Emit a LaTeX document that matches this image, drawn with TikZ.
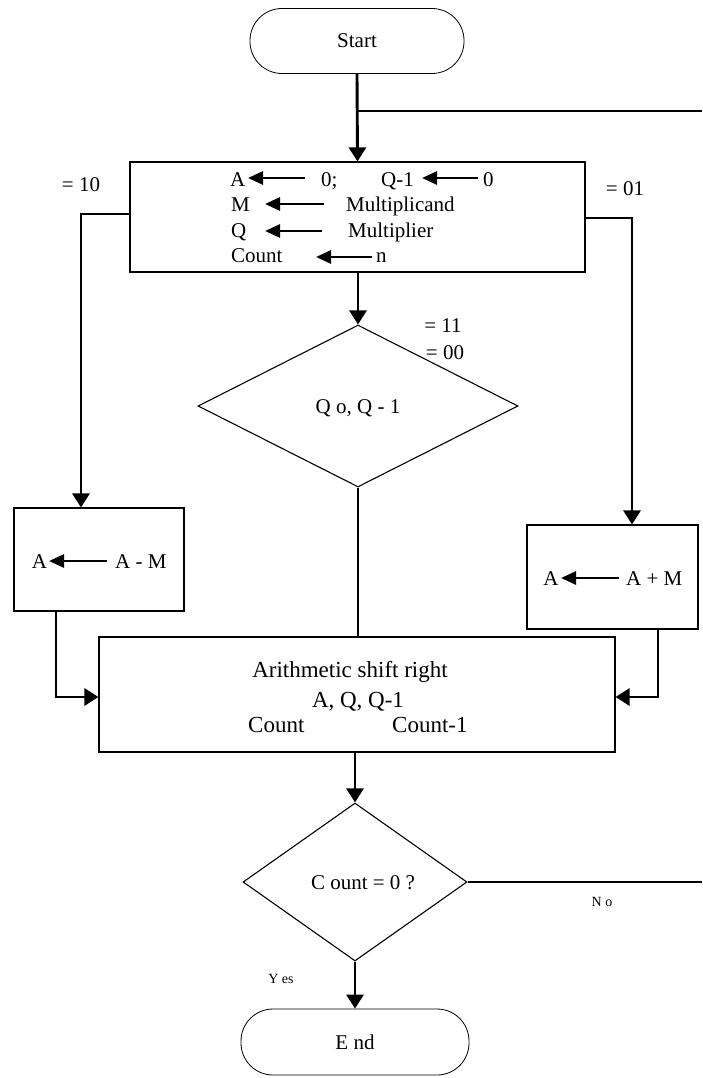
\documentclass[tikz,border=0pt]{standalone}
\usepackage{fontspec}
\setmainfont{Liberation Serif}
\usetikzlibrary{arrows.meta,shapes.geometric}
\begin{document}
\begin{tikzpicture}[x=1pt,y=-1pt,
  box/.style={draw, line width=1.1pt, inner sep=0pt},
  term/.style={draw, line width=0.8pt, rounded corners=32pt, inner sep=0pt,
    font=\fontsize{21}{24}\selectfont, text height=14pt, text depth=0pt},
  dia/.style={draw, diamond, line width=1.1pt, inner sep=0pt},
  conn/.style={line width=2.9pt},
  arr/.style={conn, -{Triangle[width=17pt,length=14pt]}},
  tarr/.style={line width=2.8pt, -{Triangle[width=13pt,length=15pt]}},
  txt/.style={inner sep=0pt, font=\fontsize{21}{24}\selectfont, text height=14pt, text depth=0pt},
  ptxt/.style={inner sep=0pt, font=\fontsize{23}{26}\selectfont, text height=15pt, text depth=0pt},
  small/.style={inner sep=0pt, font=\fontsize{14}{16}\selectfont, text height=9pt, text depth=0pt}
]
\useasboundingbox (0,0) rectangle (702,1078);

% shapes
\node[term, minimum width=214pt, minimum height=65pt] (start) at (357,41) {Start};
\node[box, minimum width=455pt, minimum height=110pt] (init) at (357.5,217) {};
\node[dia, minimum width=320pt, minimum height=162pt] (d1) at (358,406) {};
\node[box, minimum width=170pt, minimum height=103pt] (am) at (99,559.5) {};
\node[box, minimum width=171pt, minimum height=104pt] (ap) at (612.5,577) {};
\node[box, minimum width=516pt, minimum height=115pt] (proc) at (357,694.5) {};
\node[dia, minimum width=224pt, minimum height=158pt] (d2) at (355,882) {};
\node[term, minimum width=228pt, minimum height=66pt] (end) at (355,1042) {E nd};

% init box contents
\node[txt, anchor=west] (iA) at (230,179.5) {A};
\node[txt, anchor=west] (iZ) at (321,179.5) {0;};
\node[txt, anchor=west] (iQ1) at (381,179.5) {Q-1};
\node[txt, anchor=west] (iZ2) at (483,179.5) {0};
\node[txt, anchor=west] (iM) at (231,204.5) {M};
\node[txt, anchor=west] (iMc) at (346,204.5) {Multiplicand};
\node[txt, anchor=west] (iQ) at (231,230) {Q};
\node[txt, anchor=west] (iMr) at (348,230) {Multiplier};
\node[txt, anchor=west] (iC) at (231,255) {Count};
\node[txt, anchor=west] (iN) at (376,255) {n};
\coordinate (a1s) at (305,178); \coordinate (a1e) at (248,178);
\coordinate (a2s) at (478,178); \coordinate (a2e) at (422,178);
\coordinate (a3s) at (324,204); \coordinate (a3e) at (265,204);
\coordinate (a4s) at (322,231); \coordinate (a4e) at (265,231);
\coordinate (a5s) at (372,257); \coordinate (a5e) at (316,257);
\draw[tarr] (a1s) -- (a1e);
\draw[tarr] (a2s) -- (a2e);
\draw[tarr] (a3s) -- (a3e);
\draw[tarr] (a4s) -- (a4e);
\draw[tarr] (a5s) -- (a5e);

% decision 1 text
\node[txt] (d1t) at (358,406) {Q o, Q - 1};

% A-M box
\node[txt] (amA) at (39.5,561) {A};
\node[txt, anchor=west] (amR) at (115,561) {A - M};
\coordinate (b1s) at (107,561); \coordinate (b1e) at (49,561);
\draw[tarr] (b1s) -- (b1e);

% A+M box
\node[txt] (apA) at (551,578) {A};
\node[txt, anchor=west] (apR) at (626,578) {A + M};
\coordinate (b2s) at (619,578); \coordinate (b2e) at (561,578);
\draw[tarr] (b2s) -- (b2e);

% process box text
\node[ptxt] (p1) at (350,670) {Arithmetic shift right};
\node[ptxt] (p2) at (358,700) {A, Q, Q-1};
\node[ptxt, anchor=west] (p3) at (248,725) {Count};
\node[ptxt, anchor=west] (p4) at (392,725) {Count-1};

% decision 2 text
\node[txt] (d2t) at (363,882) {C ount = 0 ?};

% labels
\node[txt] (l10) at (81,184) {= 10};
\node[txt] (l01) at (625,189) {= 01};
\node[txt] (l11) at (443,325.5) {= 11};
\node[txt] (l00) at (445,352.5) {= 00};
\node[small] (lno) at (602,902) {N o};
\node[small] (lyes) at (281,979) {Y es};

% connectors
\coordinate (j) at (357,111);
\coordinate (jr) at (702,111);
\draw[arr] (start.south) -- (init.north);
\draw[conn] (j) -- (jr);
\coordinate (lt) at (81,214);
\draw[arr] (init.west |- lt) -- (lt) -- (lt |- am.north);
\coordinate (rt) at (632,218);
\draw[arr] (init.east |- rt) -- (rt) -- (rt |- ap.north);
\draw[arr] (init.south -| d1.north) -- (d1.north);
\draw[conn] (d1.south) -- (d1.south |- proc.north);
\coordinate (lb) at (56,697);
\draw[arr] (lb |- am.south) -- (lb) -- (lb -| proc.west);
\coordinate (rb) at (658,697);
\draw[arr] (rb |- ap.south) -- (rb) -- (rb -| proc.east);
\draw[arr] (proc.south -| d2.north) -- (d2.north);
\coordinate (no) at (702,882);
\draw[conn] (d2.east) -- (no);
\draw[arr] (d2.south) -- (end.north);
\end{tikzpicture}
\end{document}
